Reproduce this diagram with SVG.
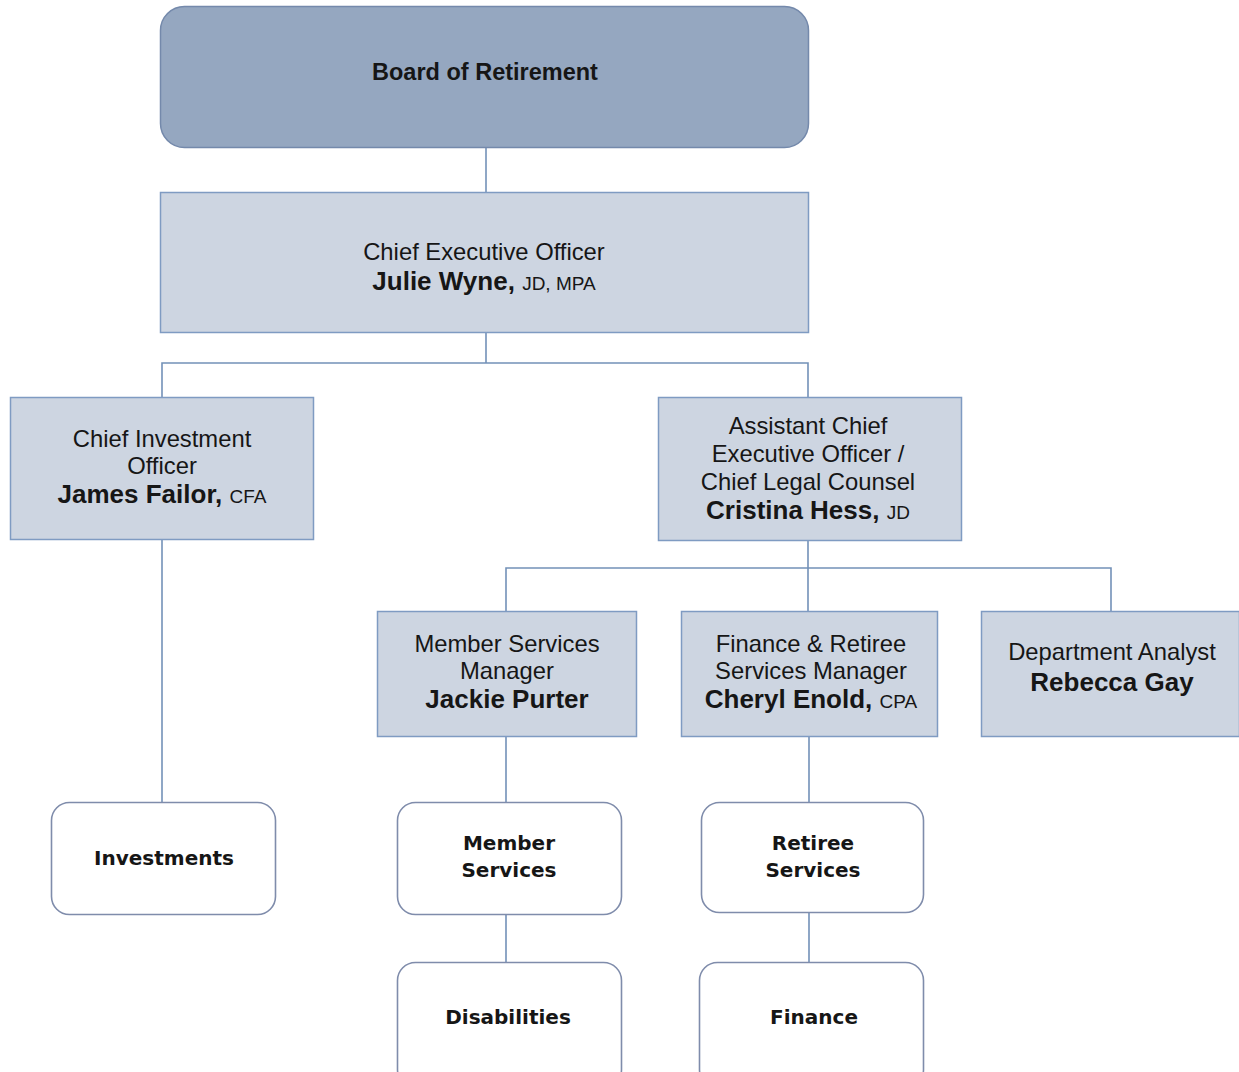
<svg xmlns="http://www.w3.org/2000/svg" width="1239" height="1072" viewBox="0 0 1239 1072">
<style>
.conn{stroke:#7391b8;stroke-width:1.6;fill:none}
.board{fill:#95a7c0;stroke:#7489ab;stroke-width:1.5}
.mgr{fill:#cdd5e1;stroke:#7f9bc2;stroke-width:1.5}
.unit{fill:#ffffff;stroke:#7f8cab;stroke-width:1.6}
text{font-family:"Liberation Sans",Arial,sans-serif;fill:#161616;text-anchor:middle}
.t{font-size:23.8px}
.n{font-size:26px;font-weight:bold}
.c{font-size:19px;font-weight:normal}
.b{font-size:23.5px;font-weight:bold}
.u{font-family:"DejaVu Sans",Verdana,sans-serif;font-size:20px;font-weight:bold}
</style>
<rect width="1239" height="1072" fill="#ffffff"/>
<g id="connectors">
<path class="conn" d="M486 147V192"/>
<path class="conn" d="M486 332V363M162 397V363H808V397"/>
<path class="conn" d="M162 539V802"/>
<path class="conn" d="M808 540V568M506 611V568H1111V611M808 568V611"/>
<path class="conn" d="M506 736V802M506 914V962"/>
<path class="conn" d="M809 736V802M809 912V962"/>
</g>
<g id="board">
<rect class="board" x="160.5" y="6.5" width="648" height="141" rx="24"/>
<text class="b" x="485" y="80">Board of Retirement</text>
</g>
<g id="ceo">
<rect class="mgr" x="160.5" y="192.5" width="648" height="140"/>
<text class="t" x="484" y="260">Chief Executive Officer</text>
<text class="n" x="484" y="290">Julie Wyne, <tspan class="c">JD, MPA</tspan></text>
</g>
<g id="cio">
<rect class="mgr" x="10.5" y="397.5" width="303" height="142"/>
<text class="t" x="162" y="447">Chief Investment</text>
<text class="t" x="162" y="474">Officer</text>
<text class="n" x="162" y="503">James Failor, <tspan class="c">CFA</tspan></text>
</g>
<g id="aceo">
<rect class="mgr" x="658.5" y="397.5" width="303" height="143"/>
<text class="t" x="808" y="434">Assistant Chief</text>
<text class="t" x="808" y="462">Executive Officer /</text>
<text class="t" x="808" y="490">Chief Legal Counsel</text>
<text class="n" x="808" y="519">Cristina Hess, <tspan class="c">JD</tspan></text>
</g>
<g id="msm">
<rect class="mgr" x="377.5" y="611.5" width="259" height="125"/>
<text class="t" x="507" y="652">Member Services</text>
<text class="t" x="507" y="679">Manager</text>
<text class="n" x="507" y="708">Jackie Purter</text>
</g>
<g id="frsm">
<rect class="mgr" x="681.5" y="611.5" width="256" height="125"/>
<text class="t" x="811" y="652">Finance &amp; Retiree</text>
<text class="t" x="811" y="679">Services Manager</text>
<text class="n" x="811" y="708">Cheryl Enold, <tspan class="c">CPA</tspan></text>
</g>
<g id="analyst">
<rect class="mgr" x="981.5" y="611.5" width="258" height="125"/>
<text class="t" x="1112" y="660">Department Analyst</text>
<text class="n" x="1112" y="691">Rebecca Gay</text>
</g>
<g id="investments">
<rect class="unit" x="51.5" y="802.5" width="224" height="112" rx="18"/>
<text class="u" x="164" y="865">Investments</text>
</g>
<g id="member-services">
<rect class="unit" x="397.5" y="802.5" width="224" height="112" rx="18"/>
<text class="u" x="509" y="850">Member</text>
<text class="u" x="509" y="877">Services</text>
</g>
<g id="retiree-services">
<rect class="unit" x="701.5" y="802.5" width="222" height="110" rx="18"/>
<text class="u" x="813" y="850">Retiree</text>
<text class="u" x="813" y="877">Services</text>
</g>
<g id="disabilities">
<rect class="unit" x="397.5" y="962.5" width="224" height="125" rx="18"/>
<text class="u" x="508" y="1024">Disabilities</text>
</g>
<g id="finance">
<rect class="unit" x="699.5" y="962.5" width="224" height="125" rx="18"/>
<text class="u" x="814" y="1024">Finance</text>
</g>
</svg>
